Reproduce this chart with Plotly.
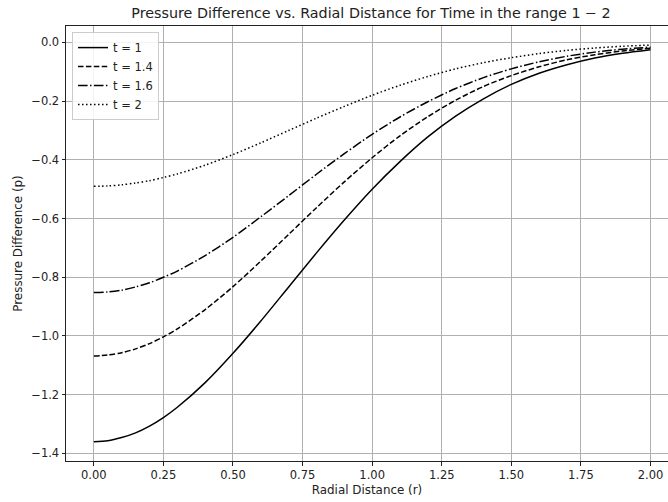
import plotly.graph_objects as go

r = [0.0, 0.05, 0.1, 0.15, 0.2, 0.25, 0.3, 0.4, 0.5, 0.6, 0.7, 0.8, 0.9, 1.0,
     1.1, 1.2, 1.3, 1.4, 1.5, 1.6, 1.7, 1.8, 1.9, 2.0]

p_t1 = [-1.360, -1.357, -1.346, -1.330, -1.307, -1.278, -1.243, -1.159, -1.059, -0.949, -0.833,
        -0.717, -0.605, -0.500, -0.406, -0.322, -0.251, -0.192, -0.143, -0.105, -0.076, -0.053,
        -0.037, -0.025]
p_t14 = [-1.068, -1.065, -1.057, -1.044, -1.026, -1.003, -0.976, -0.910, -0.832, -0.745, -0.654,
         -0.563, -0.475, -0.393, -0.318, -0.253, -0.197, -0.150, -0.113, -0.083, -0.059, -0.042,
         -0.029, -0.020]
p_t16 = [-0.852, -0.850, -0.844, -0.833, -0.819, -0.800, -0.779, -0.726, -0.664, -0.594, -0.522,
         -0.449, -0.379, -0.313, -0.254, -0.202, -0.157, -0.120, -0.090, -0.066, -0.047, -0.033,
         -0.023, -0.016]
p_t2 = [-0.490, -0.489, -0.485, -0.479, -0.471, -0.460, -0.448, -0.418, -0.382, -0.342, -0.300,
        -0.258, -0.218, -0.180, -0.146, -0.116, -0.090, -0.069, -0.052, -0.038, -0.027, -0.019,
        -0.013, -0.009]

series_names = ["t = 1", "t = 1.4", "t = 1.6", "t = 2"]
series_values = [p_t1, p_t14, p_t16, p_t2]
dashes = ["solid", "5.5px,2.4px", "9.6px,2.4px,1.5px,2.4px", "1.5px,2.5px"]

x_ticks = [0.0, 0.25, 0.5, 0.75, 1.0, 1.25, 1.5, 1.75, 2.0]
y_ticks = [0.0, -0.2, -0.4, -0.6, -0.8, -1.0, -1.2, -1.4]

fig = go.Figure()
for name, vals, dash in zip(series_names, series_values, dashes):
    fig.add_trace(go.Scatter(
        x=r, y=vals, mode="lines", name=name,
        line=dict(color="black", width=1.5, dash=dash, shape="spline", smoothing=0.8),
    ))

font = "DejaVu Sans, Verdana, sans-serif"
fig.update_layout(
    width=668, height=502,
    margin=dict(l=66, r=0, t=26, b=41, autoexpand=False),
    paper_bgcolor="white", plot_bgcolor="white",
    font=dict(family=font, size=11.5, color="#222"),
    title=dict(text="Pressure Difference vs. Radial Distance for Time in the range 1 \u2212 2",
               x=371 / 668, xanchor="center", y=1 - 13 / 502, yanchor="middle",
               font=dict(size=14.3, color="#222")),
    legend=dict(x=0.01, y=0.986, xanchor="left", yanchor="top",
                bgcolor="rgba(255,255,255,0.85)", bordercolor="#cccccc", borderwidth=1,
                font=dict(size=11.5), tracegroupgap=0, itemwidth=30),
    showlegend=True,
)
fig.update_xaxes(
    range=[-0.1, 2.063], tickvals=x_ticks, ticktext=[f"{v:.2f}" for v in x_ticks],
    showgrid=True, gridcolor="#b0b0b0", gridwidth=0.8,
    showline=True, linecolor="#222", linewidth=1, mirror=True,
    ticks="outside", ticklen=3.5, tickcolor="#222", zeroline=False, automargin=False,
    title=dict(text="Radial Distance (r)", font=dict(size=11.9), standoff=4),
)
fig.update_yaxes(
    range=[-1.426, 0.056], tickvals=y_ticks,
    ticktext=[("\u2212" if v < 0 else "") + f"{abs(v):.1f}" for v in y_ticks],
    showgrid=True, gridcolor="#b0b0b0", gridwidth=0.8,
    showline=True, linecolor="#222", linewidth=1, mirror=False,
    ticks="outside", ticklen=3.5, tickcolor="#222", zeroline=False, automargin=False,
    title=dict(text="Pressure Difference (p)", font=dict(size=11.9), standoff=6),
)

fig.write_html("out.html", config={"displayModeBar": False},
               post_script="document.body.style.margin='0px';document.body.style.overflow='hidden';")
